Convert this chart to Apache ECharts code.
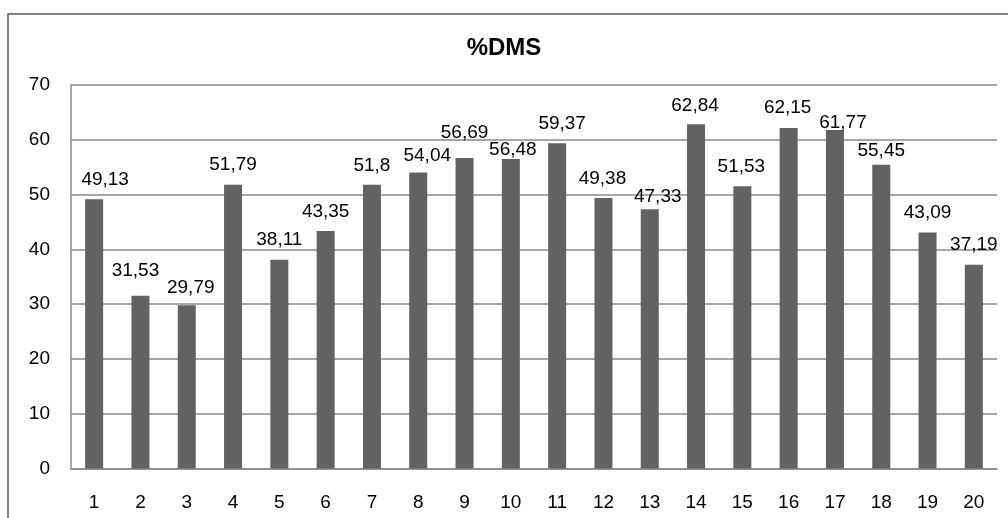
<!DOCTYPE html>
<html>
<head>
<meta charset="utf-8">
<script src="https://cdn.jsdelivr.net/npm/echarts@6/dist/echarts.min.js"></script>
<style>
  html, body { margin: 0; padding: 0; background: #fff; }
  #chart { width: 1008px; height: 518px; }
</style>
</head>
<body>
<div id="chart"></div>
<script>
// Sample numbers on the x axis
const categories = ['1','2','3','4','5','6','7','8','9','10','11','12','13','14','15','16','17','18','19','20'];

// %DMS value per sample
const dmsValues = [49.13, 31.53, 29.79, 51.79, 38.11, 43.35, 51.8, 54.04, 56.69, 56.48,
                   59.37, 49.38, 47.33, 62.84, 51.53, 62.15, 61.77, 55.45, 43.09, 37.19];

// Y axis ticks
const yTicks = [0, 10, 20, 30, 40, 50, 60, 70];

// Hand-placed label nudges [dx, dy] in pixels, per bar
const labelNudge = [[11,0],[-5,-5],[4,2],[0,0],[0,0],[0,0],[0,1],[9,3],[0,-6],[2,10],
                    [5,0],[-1,0],[8,7],[-1,1],[-1,0],[-1,-1],[8,12],[0,6],[0,0],[0,0]];

const FONT = '"Liberation Sans", Arial, sans-serif';
const GRID_GREY = '#8a8a8a';

const chart = echarts.init(document.getElementById('chart'), null, { renderer: 'canvas' });

chart.setOption({
  backgroundColor: '#ffffff',
  animation: false,
  title: {
    text: '%DMS',
    left: 'center',
    top: 31,
    textStyle: { fontFamily: FONT, fontSize: 24, fontWeight: 'bold', color: '#000' }
  },
  graphic: [{
    type: 'rect',
    shape: { x: 8, y: 14, width: 1020, height: 530 },
    style: { fill: 'none', stroke: '#5a5a5a', lineWidth: 1.5 },
    silent: true
  }],
  grid: { left: 71, right: 11, top: 85, bottom: 49.5, containLabel: false },
  xAxis: {
    type: 'category',
    data: categories,
    axisLine: { show: true, lineStyle: { color: GRID_GREY, width: 1.5 } },
    axisTick: { show: false },
    axisLabel: { fontFamily: FONT, fontSize: 19, color: '#000', margin: 25 }
  },
  yAxis: {
    type: 'value',
    min: yTicks[0],
    max: yTicks[yTicks.length - 1],
    interval: yTicks[1] - yTicks[0],
    axisLine: { show: true, lineStyle: { color: GRID_GREY, width: 1.5 } },
    axisTick: { show: false },
    splitLine: { show: true, lineStyle: { color: GRID_GREY, width: 1.5 } },
    axisLabel: { fontFamily: FONT, fontSize: 19, color: '#000', margin: 21 }
  },
  series: [{
    type: 'bar',
    barWidth: 18,
    itemStyle: { color: '#626262' },
    data: dmsValues.map((v, i) => ({
      value: v,
      label: {
        show: true,
        position: 'top',
        distance: 10,
        offset: labelNudge[i],
        fontFamily: FONT,
        fontSize: 19,
        color: '#000',
        formatter: p => String(p.value).replace('.', ',')
      }
    }))
  }]
});
</script>
</body>
</html>
